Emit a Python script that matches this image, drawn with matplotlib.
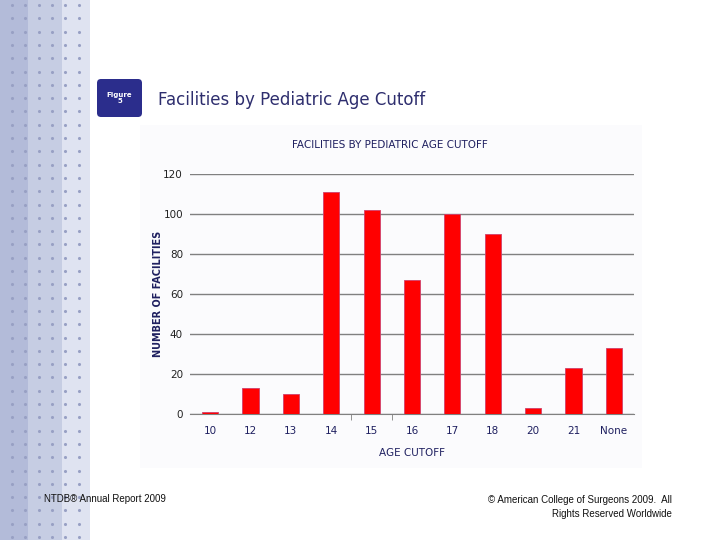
import numpy as np
import matplotlib
matplotlib.use("Agg")
import matplotlib.pyplot as plt
from matplotlib.patches import Rectangle, FancyBboxPatch

# data
ages = ['10', '12', '13', '14', '15', '16', '17', '18', '20', '21', 'None']
facilities = [1, 13, 10, 111, 102, 67, 100, 90, 3, 23, 33]
yticks = [0, 20, 40, 60, 80, 100, 120]

navy = '#1f2060'
W, H = 720, 540

fig = plt.figure(figsize=(7.2, 5.4), dpi=100)
fig.patch.set_facecolor('white')

# background layer in pixel coords (y down)
bg = fig.add_axes([0, 0, 1, 1])
bg.set_xlim(0, W)
bg.set_ylim(H, 0)
bg.axis('off')

# dotted strip on the left
for x0, x1, c in [(0, 28, '#b3bbd9'), (28, 62, '#c6cde3'), (62, 90, '#dfe3f1')]:
    bg.add_patch(Rectangle((x0, 0), x1 - x0, H, color=c, lw=0))
dx = np.arange(12, 90, 13.3)
dy = np.arange(5, H, 13.3)
gx, gy = np.meshgrid(dx, dy)
bg.scatter(gx.ravel(), gy.ravel(), s=5, color='#98a0c4', lw=0)

# chart panel
bg.add_patch(Rectangle((140, 125), 502, 343, color='#fbfbfd', lw=0))

# figure badge
bg.add_patch(FancyBboxPatch((97, 79), 45, 38, boxstyle='round,pad=0,rounding_size=4',
                            color='#2b2d8c', lw=0))
bg.text(119.5, 98, 'Figure\n5', color='white', fontsize=5, ha='center', va='center',
        fontweight='bold', linespacing=1.1)

bg.text(158, 100, 'Facilities by Pediatric Age Cutoff', color='#2e2e6e', fontsize=12,
        ha='left', va='center')

bg.text(44, 499, 'NTDB\u00ae Annual Report 2009', fontsize=7, ha='left', va='center',
        family='Liberation Sans', color='#111111')
bg.text(672, 507, '\u00a9 American College of Surgeons 2009.  All\nRights Reserved Worldwide',
        fontsize=7, ha='right', va='center', family='Liberation Sans', color='#111111',
        linespacing=1.45)

# main chart
ax = fig.add_axes([190 / W, 1 - 414 / H, 444 / W, 240 / H])
ax.set_facecolor('none')
x = np.arange(len(ages))
ax.bar(x, facilities, width=0.4, color='#ff0000', edgecolor='#d0406a', linewidth=0.6, zorder=3)
ax.set_xlim(-0.5, len(ages) - 0.5)
ax.set_ylim(0, 120)
ax.set_yticks(yticks)
ax.set_yticklabels([str(v) for v in yticks], fontsize=7.5, color='#222222')
ax.yaxis.grid(True, color='#808080', linewidth=1, zorder=0)
ax.tick_params(axis='y', length=0, pad=5)
ax.set_xticks(x)
ax.set_xticklabels(ages, fontsize=7.5, color=navy)
ax.tick_params(axis='x', length=0, pad=9)
ax.set_xticks([3.5, 4.5], minor=True)
ax.tick_params(axis='x', which='minor', length=4, color='#808080', direction='out')
for s in ['top', 'right', 'left']:
    ax.spines[s].set_visible(False)
ax.spines['bottom'].set_color('#808080')
ax.set_xlabel('AGE CUTOFF', fontsize=7.5, color=navy, labelpad=8)
ax.set_ylabel('NUMBER OF FACILITIES', fontsize=7, color=navy, fontweight='bold', labelpad=0)
ax.set_title('FACILITIES BY PEDIATRIC AGE CUTOFF', fontsize=7.5, color=navy, pad=19, x=0.45)

fig.savefig('out.png', dpi=100)
